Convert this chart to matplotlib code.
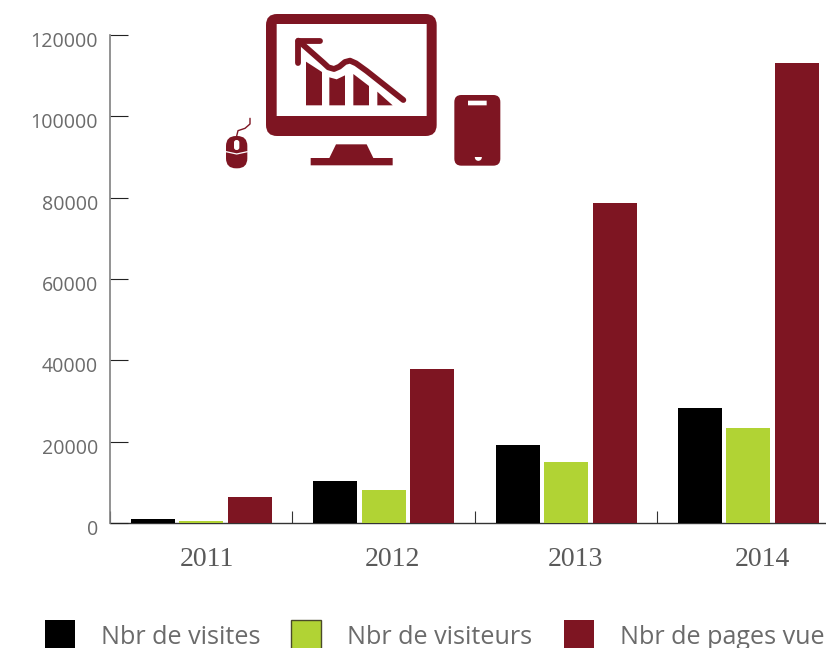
import matplotlib
matplotlib.use("Agg")
import matplotlib.pyplot as plt
import numpy as np
from matplotlib.patches import FancyBboxPatch, Polygon, Rectangle, Ellipse
from matplotlib.transforms import ScaledTranslation

years = ["2011", "2012", "2013", "2014"]
visites = [1000, 10300, 19200, 28300]
visiteurs = [500, 8100, 15000, 23400]
pages = [6400, 37900, 78700, 113100]
y_ticks = [0, 20000, 40000, 60000, 80000, 100000, 120000]
series_names = ["Nbr de visites", "Nbr de visiteurs", "Nbr de pages vue"]

BLACK = "#000000"
GREEN = "#b1d334"
RED = "#7e1522"
GREY = "#6b6b6b"
FONT = "Open Sans"

W, H = 826, 648
fig = plt.figure(figsize=(W / 100, H / 100), dpi=100)

# main axes, placed in pixels
ax = fig.add_axes([110 / W, 1 - 523 / H, (W - 110) / W, (523 - 35) / H])
x = np.arange(len(years))
step = 0.266
width = 0.241
ax.bar(x - step, visites, width, color=BLACK)
ax.bar(x, visiteurs, width, color=GREEN)
ax.bar(x + step, pages, width, color=RED)

ax.set_xlim(-0.5, 3.425)
ax.set_ylim(0, 120000)
for side in ["top", "right"]:
    ax.spines[side].set_visible(False)
ax.spines["left"].set_color("#808080")
ax.spines["left"].set_linewidth(1.2)
ax.spines["bottom"].set_color("#333333")
ax.spines["bottom"].set_linewidth(1.0)
ax.spines["bottom"].set_zorder(0.5)  # bars sit over the axis line

ax.set_yticks(y_ticks)
ax.set_yticklabels([str(v) for v in y_ticks], fontsize=14.1, color=GREY, family=FONT)
ax.tick_params(axis="y", direction="in", length=13, width=0.8, color="#222222", pad=8.6)
for lab in ax.get_yticklabels():
    lab.set_transform(lab.get_transform() + ScaledTranslation(0, -4.5 / 100, fig.dpi_scale_trans))

# category ticks sit between the groups, labels at the centres
ax.set_xticks(np.append(x[0] - 0.499, x[:-1] + 0.5))
ax.set_xticklabels([])
ax.tick_params(axis="x", direction="in", length=8.5, width=0.8, color="#333333")
ax.set_xticks(x, minor=True)
ax.set_xticklabels(years, minor=True, fontsize=20, color="#5a5a5a", family="Liberation Serif")
ax.tick_params(axis="x", which="minor", length=0, pad=17)
label_shift = [6, 9, 9, 14]
for lab, dx in zip(ax.get_xticklabels(minor=True), label_shift):
    lab.set_transform(lab.get_transform() + ScaledTranslation(dx / 100, 0, fig.dpi_scale_trans))

# overlay in pixel coordinates for icon and legend
ov = fig.add_axes([0, 0, 1, 1])
ov.set_xlim(0, W)
ov.set_ylim(H, 0)
ov.axis("off")
ov.patch.set_alpha(0)


def z(px, py):
    return 210 + px / 3, py / 3


def rounded(x0, y0, x1, y1, r, color):
    (a, b), (c, d) = z(x0, y0), z(x1, y1)
    ov.add_patch(FancyBboxPatch((a + r, b + r), c - a - 2 * r, d - b - 2 * r,
                                boxstyle=f"round,pad={r},rounding_size={r}",
                                fc=color, ec="none"))


def poly(points, color):
    ov.add_patch(Polygon([z(*p) for p in points], closed=True, fc=color, ec="none"))


def stroke(points, color, lw):
    xs, ys = zip(*[z(*p) for p in points])
    ov.plot(xs, ys, color=color, lw=lw, solid_capstyle="round", solid_joinstyle="round")


# monitor
rounded(168, 42, 680, 408, 11, RED)
rounded(200, 72, 650, 348, 0.1, "white")
poly([(302, 496), (548, 496), (548, 474), (490, 474), (470, 433), (378, 433), (358, 474), (302, 474)], RED)

# little chart inside the monitor
poly([(288, 185), (336, 216), (336, 316), (288, 316)], RED)
poly([(358, 232), (380, 238), (405, 226), (405, 316), (358, 316)], RED)
poly([(430, 222), (477, 258), (477, 316), (430, 316)], RED)
poly([(502, 275), (548, 316), (502, 316)], RED)
curve = [(265, 122), (340, 188), (355, 202), (372, 207), (388, 200), (405, 186), (420, 182), (438, 190),
         (470, 213), (580, 300)]
stroke(curve, RED, 4.2)
stroke([(330, 122), (265, 122), (265, 188)], RED, 4.2)

# phone
rounded(733, 285, 871, 497, 7, RED)
rounded(774, 302, 830, 316, 0.1, "white")
cx, cy = z(805, 472)
ov.add_patch(Ellipse((cx, cy), 7, 7, fc="white", ec="none"))
ov.add_patch(Rectangle((cx - 5, cy - 5), 10, 5, fc=RED, ec="none"))

# mouse
rounded(48, 408, 112, 505, 10, RED)
stroke([(48, 455), (80, 462), (112, 455)], "white", 0.9)
rounded(72, 420, 88, 450, 2.5, "white")
stroke([(80, 408), (84, 392), (105, 385), (120, 372), (120, 355)], RED, 1.0)

# legend, cut by the bottom edge like the reference
swatch_x = [45, 291, 564]
text_x = [101, 347, 620]
for sx, tx, name, col in zip(swatch_x, text_x, series_names, [BLACK, GREEN, RED]):
    edge = "#4a4a2a" if col == GREEN else "none"
    ov.add_patch(Rectangle((sx, 620), 30, 30, fc=col, ec=edge, lw=1))
    ov.text(tx, 644, name, fontsize=18.1, color=GREY, family=FONT, va="baseline", ha="left")

fig.savefig("out.png", dpi=100)
